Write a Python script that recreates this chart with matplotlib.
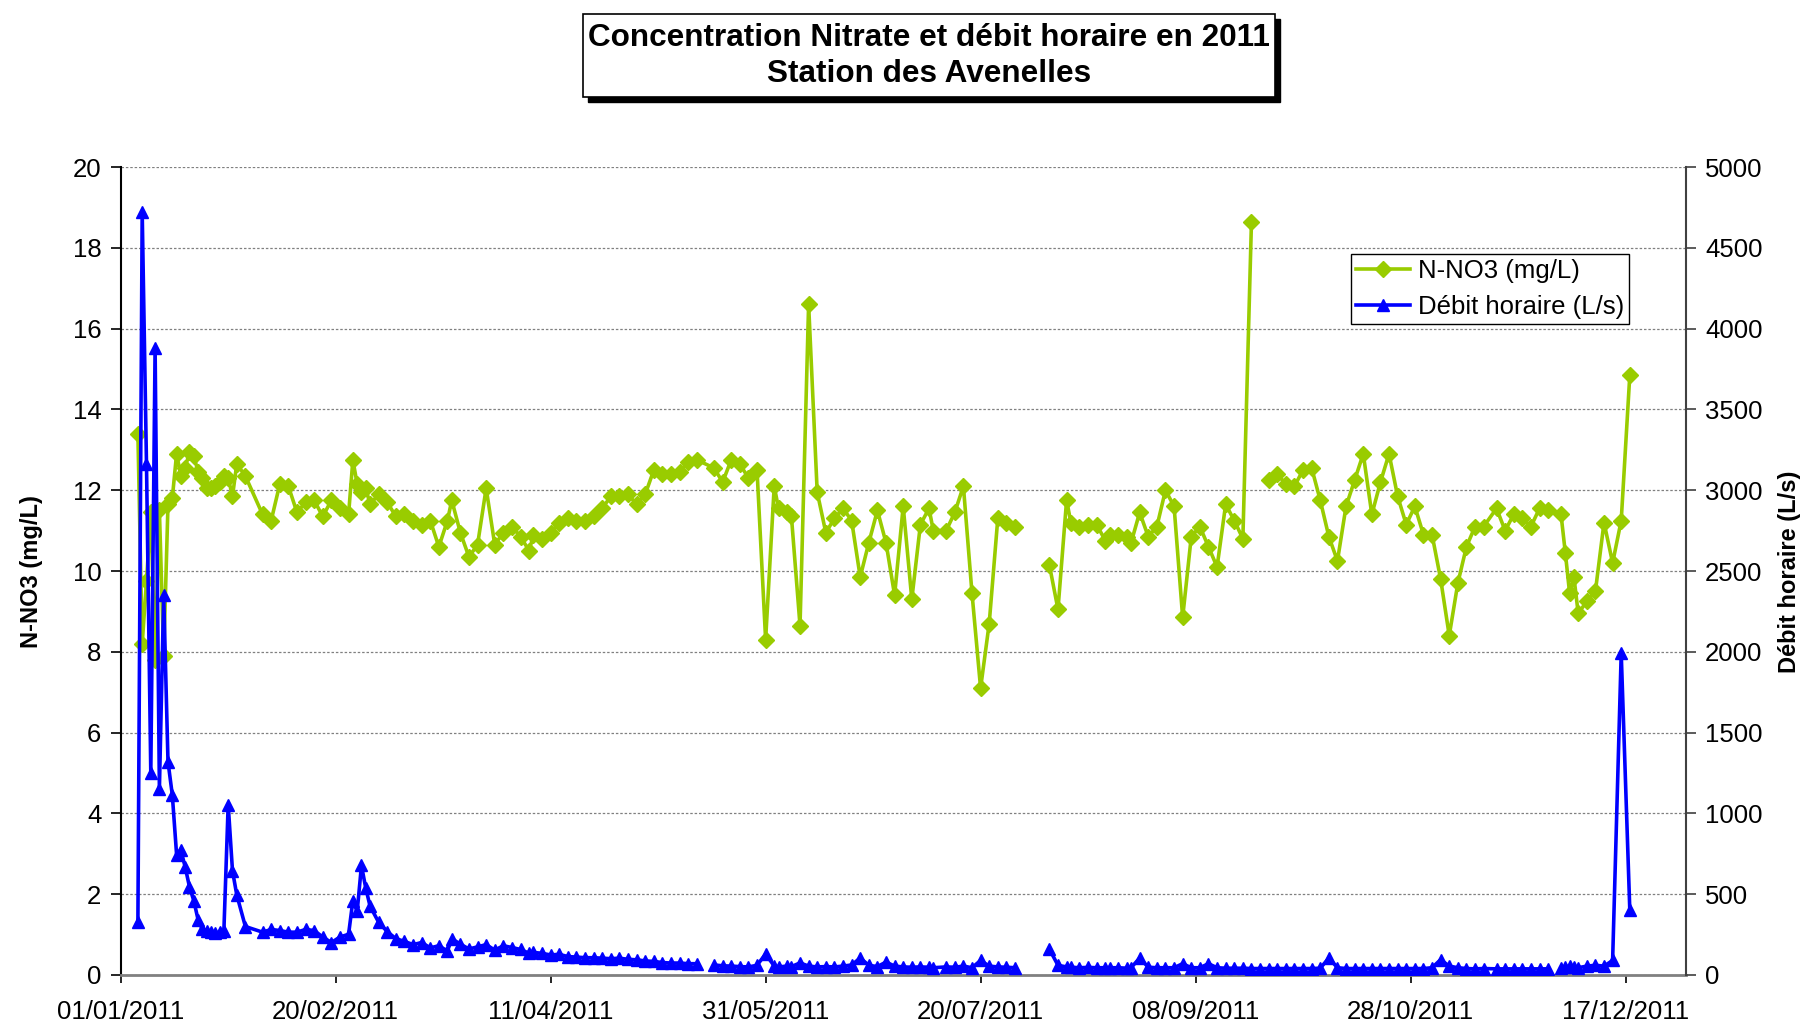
import numpy as np
import pandas as pd
import matplotlib
matplotlib.use('Agg')
import matplotlib.pyplot as plt
from matplotlib.patches import Rectangle

plt.rcParams['font.family'] = ['Liberation Sans', 'DejaVu Sans']

nan = np.nan

# ---- data: day offsets from 01/01/2011 ----
nitrate_days = [4, 5, 6, 7, 8, 9, 10, 11, 12, 13, 14, 15, 16, 17, 18, 19, 20, 21, 22, 23, 24, 25, 26, 27, 29,
                33, 35, 37, 39, 41, 43, 45, 47, 49, 51, 53, 54, 55, 56, 57, 58, 60, 62, 64, 66, 68, 70, 72, 74,
                76, 77, 79, 81, 83, 85, 87, 89, 91, 93, 95, 96, 98, 100, 102, 104, 106, 108, 110, 112, 114, 116,
                118, 120, 122, 124, 126, 128, 130, 132, 134, 138, 140, 142, 144, 146, 148, 150, 152, 153, 155,
                156, 158, 160, 162, 164, 166, 168, 170, 172, 174, 176, 178, 180, 182, 184, 186, 188, 189, 192,
                194, 196, 198, 200, 202, 204, 206, 208, 212, 216, 218, 220, 221, 223, 225, 227, 229, 230, 232,
                234, 235, 237, 239, 241, 243, 245, 247, 249, 251, 253, 255, 257, 259, 261, 263, 265, 267, 269,
                271, 273, 275, 277, 279, 281, 283, 285, 287, 289, 291, 293, 295, 297, 299, 301, 303, 305, 307,
                309, 311, 313, 315, 317, 320, 322, 324, 326, 328, 330, 332, 335, 336, 337, 338, 339, 341, 343,
                345, 347, 349, 351]
nitrate_values = [13.4, 8.2, 9.75, 11.45, 7.8, 11.5, 7.9, 11.65, 11.8, 12.9, 12.35, 12.55, 12.95, 12.85, 12.45,
                  12.3, 12.05, 12.05, 12.1, 12.2, 12.35, 12.3, 11.85, 12.65, 12.35,
                  11.4, 11.25, 12.15, 12.1, 11.45, 11.7, 11.75, 11.35, 11.75, 11.55, 11.4, 12.75, 12.15, 11.95,
                  12.05, 11.65, 11.9, 11.7, 11.35, 11.4, 11.25, 11.15, 11.25, 10.6,
                  11.25, 11.75, 10.95, 10.35, 10.65, 12.05, 10.65, 10.95, 11.1, 10.85, 10.5, 10.9, 10.8, 10.95,
                  11.2, 11.3, 11.25, 11.25, 11.35, 11.55, 11.85, 11.85,
                  11.9, 11.65, 11.9, 12.5, 12.4, 12.4, 12.45, 12.7, 12.75, 12.55, 12.2, 12.75, 12.65, 12.3, 12.5,
                  8.3, 12.1, 11.55, 11.45,
                  11.35, 8.65, 16.6, 11.95, 10.95, 11.3, 11.55, 11.25, 9.85, 10.7, 11.5, 10.7, 9.4, 11.6, 9.3,
                  11.15, 11.55, 11.0, 11.0,
                  11.45, 12.1, 9.45, 7.1, 8.7, 11.3, 11.2, 11.1, nan, 10.15, 9.05, 11.75, 11.2, 11.1, 11.15,
                  11.15, 10.75, 10.9, 10.9,
                  10.85, 10.7, 11.45, 10.85, 11.1, 12.0, 11.6, 8.85, 10.85, 11.1, 10.6, 10.1, 11.65, 11.25, 10.8,
                  18.65, nan, 12.25, 12.4,
                  12.15, 12.1, 12.5, 12.55, 11.75, 10.85, 10.25, 11.6, 12.25, 12.9, 11.4, 12.2, 12.9, 11.85,
                  11.15, 11.6, 10.9, 10.9, 9.8,
                  8.4, 9.7, 10.6, 11.1, 11.1, 11.55, 11.0, 11.4, 11.3, 11.1, 11.55, 11.5, 11.4, 10.45, 9.45, 9.85,
                  8.95, 9.25, 9.5,
                  11.2, 10.2, 11.25, 14.85]

debit_days = [4, 5, 6, 7, 8, 9, 10, 11, 12, 13, 14, 15, 16, 17, 18, 19, 20, 21, 22, 23, 24, 25, 26, 27, 29,
              33, 35, 37, 39, 41, 43, 45, 47, 49, 51, 53, 54, 55, 56, 57, 58, 60, 62, 64, 66, 68, 70, 72, 74,
              76, 77, 79, 81, 83, 85, 87, 89, 91, 93, 95, 96, 98, 100, 102, 104, 106, 108, 110, 112, 114, 116,
              118, 120, 122, 124, 126, 128, 130, 132, 134, 136, 138, 140, 142, 144, 146, 148, 150, 152, 153, 155,
              156, 158, 160, 162, 164, 166, 168, 170, 172, 174, 176, 178, 180, 182, 184, 186, 188, 189, 192,
              194, 196, 198, 200, 202, 204, 206, 208, 212, 216, 218, 220, 221, 223, 225, 227, 229, 230, 232,
              234, 235, 237, 239, 241, 243, 245, 247, 249, 251, 253, 255, 257, 259, 261, 263, 265, 267, 269,
              271, 273, 275, 277, 279, 281, 283, 285, 287, 289, 291, 293, 295, 297, 299, 301, 303, 305, 307,
              309, 311, 313, 315, 317, 320, 322, 324, 326, 328, 330, 332, 333, 335, 336, 337, 338, 339, 341, 343,
              345, 347, 349, 351]
debit_values = [330, 4720, 3160, 1250, 3880, 1150, 2350, 1320, 1115, 745, 772, 668, 545, 460, 342, 282, 275,
                265, 258, 265, 275, 1054, 645, 495, 300,
                265, 282, 275, 265, 265, 282, 275, 235, 201, 235, 252, 460, 393, 678, 537, 426, 326, 268, 225,
                208, 188, 201, 168, 181,
                148, 225, 191, 161, 174, 188, 154, 181, 170, 158, 134, 140, 134, 124, 128, 114, 111, 107, 107,
                104, 101, 104,
                97, 94, 87, 84, 77, 74, 74, 70, 70, nan, 62, 57, 55, 52, 50, 60, 130, 55, 50, 55,
                52, 75, 55, 50, 52, 50, 55, 62, 105, 60, 52, 80, 55, 50, 48, 50, 48, 45, 50,
                48, 55, 45, 90, 55, 50, 48, 45, nan, 160, 60, 50, 48, 45, 47, 45, 45, 45, 45,
                42, 45, 105, 48, 45, 45, 45, 70, 45, 45, 70, 45, 42, 42, 42, 40, 40, 40, 40,
                40, 40, 40, 40, 42, 105, 45, 40, 40, 40, 40, 40, 40, 40, 40, 40, 40, 45, 95,
                55, 45, 40, 38, 40, 38, 38, 38, 38, 38, 38, 38, nan, 45, 50, 55, 48, 45, 55, 60,
                55, 90, 1990, 400]

x_tick_days = [0, 50, 100, 150, 200, 250, 300, 350]
left_ticks = [0, 2, 4, 6, 8, 10, 12, 14, 16, 18, 20]
right_ticks = [0, 500, 1000, 1500, 2000, 2500, 3000, 3500, 4000, 4500, 5000]

title_lines = ["Concentration Nitrate et débit horaire en 2011", "Station des Avenelles"]
label_nitrate = "N-NO3 (mg/L)"
label_debit = "Débit horaire (L/s)"

# ---- build ----
start = pd.Timestamp('2011-01-01')
nd = start + pd.to_timedelta(nitrate_days, unit='D')
dd = start + pd.to_timedelta(debit_days, unit='D')
xt = start + pd.to_timedelta(x_tick_days, unit='D')

GREEN = '#99CC00'
BLUE = '#0000FF'

fig = plt.figure(figsize=(18.05, 10.22), dpi=100)
ax = fig.add_axes([0.06687, 0.04599, 0.86704, 0.7906])
ax2 = ax.twinx()

l1, = ax.plot(nd, nitrate_values, color=GREEN, lw=2.6, marker='D', ms=8.5,
              mfc=GREEN, mec=GREEN, label=label_nitrate, zorder=3)
l2, = ax2.plot(dd, debit_values, color=BLUE, lw=2.6, marker='^', ms=8,
               mfc=BLUE, mec=BLUE, label=label_debit, zorder=3)

ax.set_xlim(start, start + pd.Timedelta(days=364))
ax.set_ylim(0, 20)
ax2.set_ylim(0, 5000)
ax.set_yticks(left_ticks)
ax2.set_yticks(right_ticks)
ax.set_xticks(xt)
ax.set_xticklabels([d.strftime('%d/%m/%Y') for d in xt])

ax.yaxis.grid(True, linestyle=(0, (2, 1.5)), color='#808080', lw=0.9)
ax.set_axisbelow(True)

for a in (ax, ax2):
    a.spines['top'].set_visible(False)
ax.spines['left'].set_color('#000000')
ax.spines['left'].set_linewidth(1.5)
ax2.spines['right'].set_color('#404040')
ax2.spines['right'].set_linewidth(1.5)
ax.spines['bottom'].set_color('#808080')
ax.spines['bottom'].set_linewidth(2.0)
ax2.spines['bottom'].set_visible(False)
ax2.spines['left'].set_visible(False)
ax.spines['right'].set_visible(False)

ax.tick_params(axis='y', direction='out', length=7, width=1.2, labelsize=18.5, pad=7, color='#000000')
ax2.tick_params(axis='y', direction='out', length=7, width=1.2, labelsize=18.5, pad=7, color='#404040')
ax.tick_params(axis='x', direction='out', length=6, width=1.2, labelsize=18.5, pad=12, color='#000000')

ax.set_ylabel(label_nitrate, fontsize=17, fontweight='bold', va='center')
ax2.set_ylabel(label_debit, fontsize=17, fontweight='bold', va='center')
ax.yaxis.set_label_coords((32 - 120.7) / 1565, (975 - 572) / 808)
ax2.yaxis.set_label_coords((1789 - 120.7) / 1565, (975 - 572) / 808)

leg = ax2.legend([l1, l2], [label_nitrate, label_debit], loc='upper left',
                 bbox_to_anchor=(0.786, 0.892), borderaxespad=0, fancybox=False,
                 edgecolor='black', framealpha=1, fontsize=18.5, handlelength=2.1,
                 handletextpad=0.3, borderpad=0.2, labelspacing=0.45)
leg.get_frame().set_linewidth(1.0)

# title box with shadow
x0, x1 = 583 / 1805, 1275 / 1805
y1, y0 = 1 - 14 / 1022, 1 - 97 / 1022
sh_dx, sh_dy = 5 / 1805, 5 / 1022
fig.patches.append(Rectangle((x0 + sh_dx, y0 - sh_dy), x1 - x0, y1 - y0, transform=fig.transFigure,
                             facecolor='black', edgecolor='black', zorder=1))
fig.patches.append(Rectangle((x0, y0), x1 - x0, y1 - y0, transform=fig.transFigure,
                             facecolor='white', edgecolor='black', lw=1.2, zorder=2))
fig.text((x0 + x1) / 2, 1 - 38.5 / 1022, title_lines[0], ha='center', va='center',
         fontsize=22.7, fontweight='bold', zorder=3)
fig.text((x0 + x1) / 2, 1 - 73.5 / 1022, title_lines[1], ha='center', va='center',
         fontsize=22.7, fontweight='bold', zorder=3)

fig.savefig('out.png', dpi=100)
